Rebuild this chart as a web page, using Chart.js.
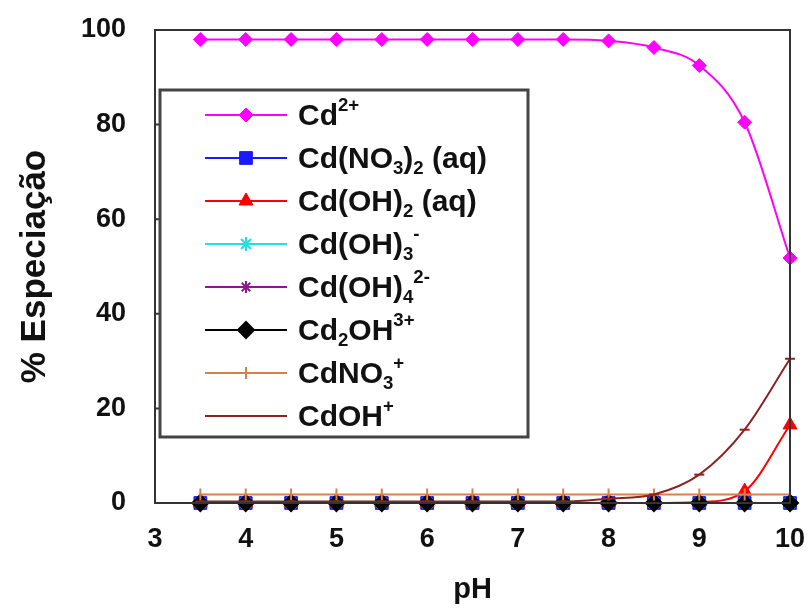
<!DOCTYPE html>
<html>
<head>
<meta charset="utf-8">
<script src="https://cdn.jsdelivr.net/npm/chart.js@4.4.0/dist/chart.umd.min.js"></script>
<style>
  html, body { margin: 0; padding: 0; background: #fff; }
  #wrap { width: 810px; height: 608px; }
</style>
</head>
<body>
<div id="wrap"><canvas id="specChart" width="810" height="608"></canvas></div>
<script>
// pH values (x)
const phValues = [3.5, 4, 4.5, 5, 5.5, 6, 6.5, 7, 7.5, 8, 8.5, 9, 9.5, 10];

// % speciation per species
const cd2plus = [98, 98, 98, 98, 98, 98, 98, 98, 98, 97.7, 96.3, 92.5, 80.5, 51.8];
const cdNO3_2 = [0, 0, 0, 0, 0, 0, 0, 0, 0, 0, 0, 0, 0, 0];
const cdOH_2 = [0, 0, 0, 0, 0, 0, 0, 0, 0, 0, 0, 0.2, 2.5, 16.5];
const cdOH_3 = [0, 0, 0, 0, 0, 0, 0, 0, 0, 0, 0, 0, 0, 0];
const cdOH_4 = [0, 0, 0, 0, 0, 0, 0, 0, 0, 0, 0, 0, 0, 0];
const cd2OH = [0, 0, 0, 0, 0, 0, 0, 0, 0, 0, 0, 0, 0, 0];
const cdNO3 = [1.8, 1.8, 1.8, 1.8, 1.8, 1.8, 1.8, 1.8, 1.8, 1.8, 1.8, 1.8, 1.8, 1.8];
const cdOH = [0.3, 0.3, 0.3, 0.3, 0.3, 0.3, 0.3, 0.3, 0.3, 0.9, 1.8, 6, 15.5, 30.5];

// legend labels (_{} = subscript, ^{} = superscript)
const speciesLabels = [
  "Cd^{2+}",
  "Cd(NO_{3})_{2} (aq)",
  "Cd(OH)_{2} (aq)",
  "Cd(OH)_{3}^{-}",
  "Cd(OH)_{4}^{2-}",
  "Cd_{2}OH^{3+}",
  "CdNO_{3}^{+}",
  "CdOH^{+}"
];

// axis ticks
const xTicks = [3, 4, 5, 6, 7, 8, 9, 10];
const yTicks = [0, 20, 40, 60, 80, 100];

const seriesData = [cd2plus, cdNO3_2, cdOH_2, cdOH_3, cdOH_4, cd2OH, cdNO3, cdOH];
const seriesStyle = [
  { color: "#ff00ff", point: "rectRot", r: 7, rot: 0 },
  { color: "#1a1aff", point: "rect", r: 9, rot: 0 },
  { color: "#ff0000", point: "triangle", r: 8, rot: 0 },
  { color: "#22e0e0", point: "star", r: 7, rot: 0 },
  { color: "#8a1a8a", point: "star", r: 6, rot: 0 },
  { color: "#000000", point: "rectRot", r: 8, rot: 0 },
  { color: "#d9804a", point: "line", r: 6, rot: 90 },
  { color: "#8b2323", point: "line", r: 5, rot: 0 }
];

const datasets = seriesData.map((vals, i) => ({
  label: speciesLabels[i],
  data: vals.map((v, j) => ({ x: phValues[j], y: v })),
  borderColor: seriesStyle[i].color,
  backgroundColor: seriesStyle[i].color,
  borderWidth: 2,
  pointStyle: seriesStyle[i].point,
  pointRadius: seriesStyle[i].r,
  pointRotation: seriesStyle[i].rot,
  pointBorderWidth: i >= 3 ? 2 : 1,
  cubicInterpolationMode: "monotone",
  order: seriesData.length - i, // later series on top, like the original
  clip: false
}));

function drawRichText(ctx, text, x, y, size) {
  const parts = [];
  const re = /(_|\^)\{([^}]*)\}/g;
  let last = 0, m;
  while ((m = re.exec(text)) !== null) {
    if (m.index > last) parts.push({ t: text.slice(last, m.index), k: "n" });
    parts.push({ t: m[2], k: m[1] === "_" ? "sub" : "sup" });
    last = re.lastIndex;
  }
  if (last < text.length) parts.push({ t: text.slice(last), k: "n" });
  ctx.textBaseline = "middle";
  ctx.textAlign = "left";
  parts.forEach(p => {
    let fs = size, dy = 0;
    if (p.k === "sub") { fs = size * 0.62; dy = size * 0.3; }
    if (p.k === "sup") { fs = size * 0.62; dy = -size * 0.36; }
    ctx.font = "bold " + fs + "px 'Liberation Sans', Arial, sans-serif";
    ctx.fillText(p.t, x, y + dy);
    x += ctx.measureText(p.t).width;
  });
}

// frame, inward ticks and boxed legend inside the plot
const framePlugin = {
  id: "frame",
  afterDatasetsDraw(chart) {
    const { ctx, chartArea: a, scales } = chart;
    ctx.save();
    ctx.strokeStyle = "#333";
    ctx.lineWidth = 2;
    ctx.strokeRect(a.left, a.top, a.right - a.left, a.bottom - a.top);
    ctx.beginPath();
    yTicks.forEach(v => {
      const py = scales.y.getPixelForValue(v);
      ctx.moveTo(a.left, py);
      ctx.lineTo(a.left + 6, py);
    });
    ctx.stroke();

    // legend box
    const bx = 160, by = 90, bw = 368, bh = 347;
    ctx.fillStyle = "#fff";
    ctx.fillRect(bx, by, bw, bh);
    ctx.strokeStyle = "#444";
    ctx.lineWidth = 3;
    ctx.strokeRect(bx, by, bw, bh);
    const ordered = chart.data.datasets.slice().sort((p, q) => q.order - p.order);
    ordered.forEach((ds, i) => {
      const cy = 115 + i * 43;
      ctx.strokeStyle = ds.borderColor;
      ctx.fillStyle = ds.backgroundColor;
      ctx.lineWidth = 2;
      ctx.beginPath();
      ctx.moveTo(205, cy);
      ctx.lineTo(287, cy);
      ctx.stroke();
      if (Chart.helpers && Chart.helpers.drawPoint) {
        ctx.lineWidth = ds.pointBorderWidth;
        Chart.helpers.drawPoint(ctx, {
          pointStyle: ds.pointStyle,
          radius: ds.pointRadius,
          rotation: ds.pointRotation,
          borderWidth: ds.pointBorderWidth
        }, 246, cy);
      }
      ctx.fillStyle = "#111";
      drawRichText(ctx, ds.label, 298, cy + 2, 30);
    });
    ctx.restore();
  }
};

const ctx = document.getElementById("specChart").getContext("2d");
const chart = new Chart(ctx, {
  type: "line",
  data: { datasets: datasets },
  options: {
    responsive: false,
    animation: false,
    layout: { padding: { top: 30, right: 20, left: 0, bottom: 0 } },
    plugins: {
      legend: { display: false },
      tooltip: { enabled: false }
    },
    scales: {
      x: {
        type: "linear",
        min: 3,
        max: 10,
        afterFit: s => { s.height = 105; s.paddingLeft = 0; s.paddingRight = 0; },
        afterBuildTicks: s => { s.ticks = xTicks.map(v => ({ value: v })); },
        grid: { display: false, drawTicks: false },
        border: { display: false },
        ticks: {
          padding: 20,
          color: "#111",
          font: { size: 27, weight: "bold", family: "'Liberation Sans', Arial, sans-serif" }
        },
        title: {
          display: true,
          text: "pH",
          color: "#111",
          padding: { top: 1, bottom: 1 },
          font: { size: 29, weight: "bold", family: "'Liberation Sans', Arial, sans-serif" }
        }
      },
      y: {
        min: 0,
        max: 100,
        afterFit: s => { s.width = 155; s.paddingTop = 0; s.paddingBottom = 0; },
        afterBuildTicks: s => { s.ticks = yTicks.map(v => ({ value: v })); },
        grid: { display: false, drawTicks: false },
        border: { display: false },
        ticks: {
          padding: 29,
          color: "#111",
          font: { size: 27, weight: "bold", family: "'Liberation Sans', Arial, sans-serif" }
        },
        title: {
          display: true,
          text: "% Especiação",
          color: "#111",
          padding: { top: 14, bottom: 14 },
          font: { size: 35, weight: "bold", family: "'Liberation Sans', Arial, sans-serif" }
        }
      }
    }
  },
  plugins: [framePlugin]
});
</script>
</body>
</html>
